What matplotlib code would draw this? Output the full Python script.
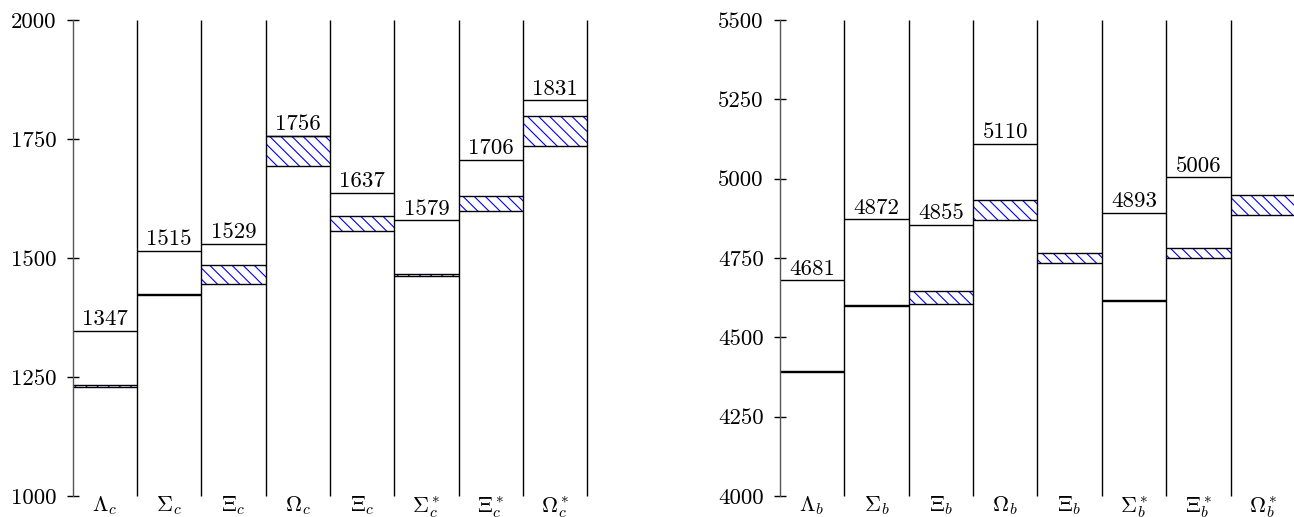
import matplotlib
matplotlib.use('Agg')
import matplotlib.pyplot as plt

plt.rcParams['font.family'] = 'serif'
plt.rcParams['font.serif'] = ['cmr10']
plt.rcParams['mathtext.fontset'] = 'cm'
plt.rcParams['axes.formatter.use_mathtext'] = True
plt.rcParams['hatch.linewidth'] = 0.8

# charm baryons (left)
c_names = [r'$\Lambda_c$', r'$\Sigma_c$', r'$\Xi_c$', r'$\Omega_c$',
           r'$\Xi_c$', r'$\Sigma_c^*$', r'$\Xi_c^*$', r'$\Omega_c^*$']
c_top = [1347, 1515, 1529, 1756, 1637, 1579, 1706, 1831]
c_lo = [1229, 1422, 1445, 1693, 1557, 1463, 1599, 1735]
c_hi = [1234, 1425, 1485, 1756, 1588, 1466, 1630, 1798]
c_ticks = [1000, 1250, 1500, 1750, 2000]

# bottom baryons (right)
b_names = [r'$\Lambda_b$', r'$\Sigma_b$', r'$\Xi_b$', r'$\Omega_b$',
           r'$\Xi_b$', r'$\Sigma_b^*$', r'$\Xi_b^*$', r'$\Omega_b^*$']
b_top = [4681, 4872, 4855, 5110, None, 4893, 5006, None]
b_lo = [4390, 4599, 4606, 4869, 4733, 4615, 4749, 4886]
b_hi = [4394, 4602, 4646, 4933, 4765, 4618, 4780, 4947]
b_ticks = [4000, 4250, 4500, 4750, 5000, 5250, 5500]

fig = plt.figure(figsize=(12.94, 5.17), dpi=100)
ax1 = fig.add_axes([0.0562, 0.0406, 0.3978, 0.9207])
ax2 = fig.add_axes([0.6026, 0.0406, 0.3982, 0.9207])


def panel(ax, names, top, lo, hi, ticks):
    n = len(names)
    ax.set_xlim(0, n)
    ax.set_ylim(ticks[0], ticks[-1])
    for s in ['top', 'right', 'bottom']:
        ax.spines[s].set_visible(False)
    ax.spines['left'].set_color('#555555')
    ax.spines['left'].set_linewidth(1.0)
    ax.vlines(range(1, n + 1), ticks[0], ticks[-1], color='black', lw=1.0, clip_on=False)
    for i in range(n):
        ax.fill_between([i, i + 1], lo[i], hi[i], facecolor='none', edgecolor='blue',
                        hatch='\\' * 3, linewidth=0)
        ax.hlines([lo[i], hi[i]], i, i + 1, color='black', lw=1.0)
        if top[i] is not None:
            ax.hlines(top[i], i, i + 1, color='black', lw=1.0)
            ax.text(i + 0.5, top[i] + 4, str(top[i]), ha='center', va='bottom', fontsize=16.5)
    ax.set_yticks(ticks)
    ax.set_yticklabels([str(t) for t in ticks])
    ax.tick_params(axis='y', direction='inout', length=9, width=1, pad=7, labelsize=16.5)
    ax.set_xticks([i + 0.5 for i in range(n)])
    ax.set_xticklabels(names)
    ax.tick_params(axis='x', length=0, pad=-1.5, labelsize=16)


panel(ax1, c_names, c_top, c_lo, c_hi, c_ticks)
panel(ax2, b_names, b_top, b_lo, b_hi, b_ticks)

fig.savefig('out.png', dpi=100)
